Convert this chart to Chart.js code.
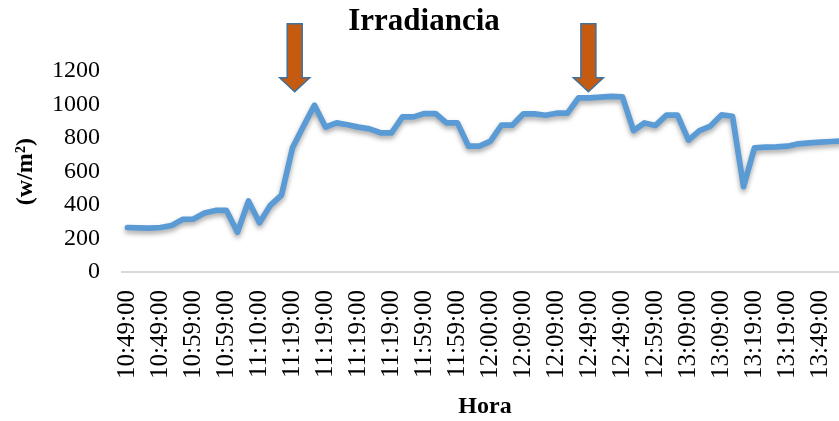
<!DOCTYPE html>
<html>
<head>
<meta charset="utf-8">
<script src="https://cdn.jsdelivr.net/npm/chart.js@4"></script>
<style>
  html, body { margin: 0; padding: 0; background: #fff; overflow: hidden; }
  canvas { display: block; }
</style>
</head>
<body>
<canvas id="chart" width="852" height="421"></canvas>
<script>
// Tick labels shown on the x axis (one every 3 readings)
const tickLabels = [
  "10:49:00", "10:49:00", "10:59:00", "10:59:00", "11:10:00", "11:19:00",
  "11:19:00", "11:19:00", "11:19:00", "11:59:00", "11:59:00", "12:00:00",
  "12:09:00", "12:09:00", "12:49:00", "12:49:00", "12:59:00", "13:09:00",
  "13:09:00", "13:19:00", "13:19:00", "13:49:00"
];
const labelEvery = 3;

// Irradiance readings (w/m2)
const irradiance = [
  266, 264, 262, 266, 278, 314, 316, 352, 368, 368,
  238, 424, 294, 400, 460, 742, 872, 997, 866, 891,
  880, 866, 855, 832, 832, 927, 927, 947, 947, 891,
  891, 752, 752, 782, 878, 878, 945, 945, 937, 949,
  949, 1041, 1041, 1045, 1049, 1047, 845, 891, 876, 937,
  937, 788, 845, 872, 939, 931, 510, 742, 746, 748,
  752, 766, 772, 776, 780, 784
];

// Arrow markers (category index, value at tip)
const arrowAt = [15.2, 41.9];
const arrowTip = 1077;

const yTicks = [0, 200, 400, 600, 800, 1000, 1200];

const categories = irradiance.map((v, i) =>
  i % labelEvery === 0 ? (tickLabels[i / labelEvery] || "") : ""
);

const serif = "'Liberation Serif', 'Times New Roman', serif";

// soft shadow under the line
const shadowPlugin = {
  id: "lineShadow",
  beforeDatasetsDraw(chart) {
    const ctx = chart.ctx;
    ctx.save();
    ctx.shadowColor = "rgba(0,0,0,0.35)";
    ctx.shadowBlur = 5;
    ctx.shadowOffsetY = 3;
  },
  afterDatasetsDraw(chart) {
    chart.ctx.restore();
  }
};

// the two orange arrows
const arrowPlugin = {
  id: "arrows",
  afterDraw(chart) {
    const ctx = chart.ctx;
    const xs = chart.scales.x, ys = chart.scales.y;
    const tip = ys.getPixelForValue(arrowTip);
    arrowAt.forEach(idx => {
      const cx = xs.getPixelForValue(idx);
      const top = tip - 68, headTop = tip - 14;
      ctx.save();
      ctx.beginPath();
      ctx.moveTo(cx - 7.5, top);
      ctx.lineTo(cx + 7.5, top);
      ctx.lineTo(cx + 7.5, headTop);
      ctx.lineTo(cx + 15, headTop);
      ctx.lineTo(cx, tip);
      ctx.lineTo(cx - 15, headTop);
      ctx.lineTo(cx - 7.5, headTop);
      ctx.closePath();
      ctx.fillStyle = "#C55A11";
      ctx.fill();
      ctx.lineWidth = 1.5;
      ctx.strokeStyle = "#41719C";
      ctx.stroke();
      ctx.restore();
    });
  }
};

new Chart(document.getElementById("chart"), {
  type: "line",
  data: {
    labels: categories,
    datasets: [{
      label: "Irradiancia",
      data: irradiance,
      borderColor: "#5B9BD5",
      borderWidth: 5.7,
      borderJoinStyle: "round",
      borderCapStyle: "round",
      pointRadius: 0,
      tension: 0,
      fill: false
    }]
  },
  options: {
    responsive: false,
    animation: false,
    layout: { padding: { left: 0, right: 4, top: 0, bottom: 0 } },
    plugins: {
      legend: { display: false },
      tooltip: { enabled: false },
      title: {
        display: true,
        text: "Irradiancia",
        color: "#000",
        font: { family: serif, size: 31, weight: "bold" },
        padding: { top: 3, bottom: 31 }
      }
    },
    scales: {
      x: {
        offset: true,
        grid: { display: false, drawTicks: false },
        border: { display: true, color: "#D9D9D9", width: 2 },
        ticks: {
          autoSkip: false,
          maxRotation: 90,
          minRotation: 90,
          padding: 18,
          color: "#000",
          font: { family: serif, size: 25 }
        },
        title: {
          display: true,
          text: "Hora",
          color: "#000",
          font: { family: serif, size: 24, weight: "bold" },
          padding: { top: 0, bottom: 0 }
        },
        afterFit(scale) {
          scale.height = 149;
          scale.paddingLeft = 0;
          scale.paddingRight = 0;
        }
      },
      y: {
        min: 0,
        max: 1200,
        afterBuildTicks(scale) { scale.ticks = yTicks.map(v => ({ value: v })); },
        grid: { display: false, drawTicks: false },
        border: { display: false },
        ticks: {
          padding: 22,
          color: "#000",
          font: { family: serif, size: 24 },
          callback: v => String(v)
        },
        title: {
          display: true,
          text: "(w/m²)",
          color: "#000",
          font: { family: serif, size: 24, weight: "bold" },
          padding: { top: 11, bottom: 0 }
        },
        afterFit(scale) {
          scale.width = 122;
          scale.paddingTop = 0;
          scale.paddingBottom = 0;
        }
      }
    }
  },
  plugins: [shadowPlugin, arrowPlugin]
});
</script>
</body>
</html>
